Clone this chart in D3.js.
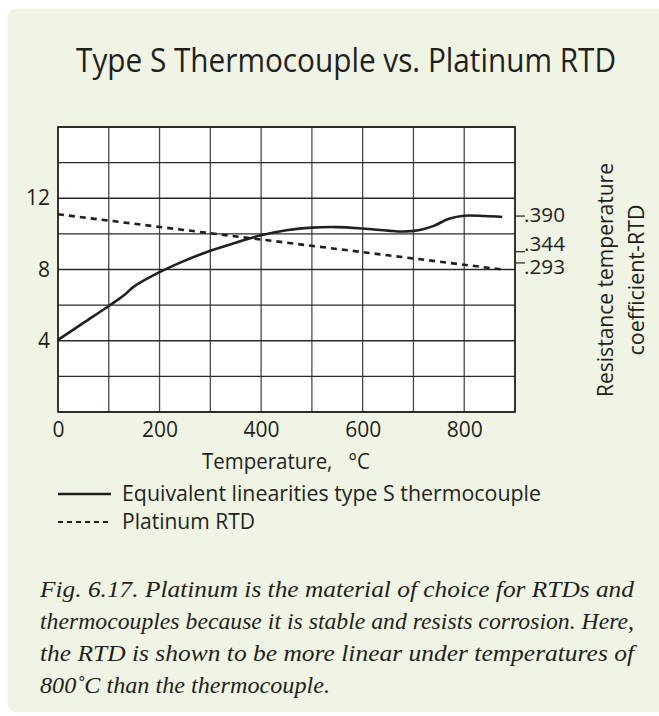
<!DOCTYPE html>
<html>
<head>
<meta charset="utf-8">
<script src="https://cdn.jsdelivr.net/npm/d3@7"></script>
<style>
  html, body { margin: 0; padding: 0; background: #ffffff; }
  svg { display: block; }
</style>
</head>
<body>
<svg id="chart" width="659" height="716"></svg>
<script>
// Temperature (°C) and equivalent linearity of a type S thermocouple
const tcTemps  = [0, 50, 100, 130, 150, 200, 250, 300, 350, 400, 450, 500, 550, 600, 650, 680, 710, 740, 770, 800, 840, 875];
const tcValues = [4.05, 5.0, 5.95, 6.55, 7.05, 7.85, 8.5, 9.05, 9.5, 9.92, 10.2, 10.35, 10.38, 10.3, 10.18, 10.13, 10.2, 10.45, 10.85, 11.02, 11.0, 10.95];

// Platinum RTD line
const rtdTemps  = [0, 875];
const rtdValues = [11.1, 8.0];

// Axis ticks
const xTicks = [0, 200, 400, 600, 800];
const yTicks = [4, 8, 12];
const xGrid = [0, 100, 200, 300, 400, 500, 600, 700, 800, 900];
const yGrid = [0, 2, 4, 6, 8, 10, 12, 14, 16];

// Resistance temperature coefficient marks on the right side
const rtdCoefLabels = [".390", ".344", ".293"];
const rtdCoefLevels = [11.0, 9.0, 8.37];

const legendLabels = ["Equivalent linearities type S thermocouple", "Platinum RTD"];
const titleText = "Type S Thermocouple vs. Platinum RTD";
const captionLines = [
  "Fig. 6.17. Platinum is the material of choice for RTDs and",
  "thermocouples because it is stable and resists corrosion. Here,",
  "the RTD is shown to be more linear under temperatures of",
  "800\u02daC than the thermocouple."
];

const svg = d3.select("#chart");
const sans = "'Open Sans', 'Noto Sans', sans-serif";
const serif = "'Liberation Serif', 'DejaVu Serif', serif";
const ink = "#231f20";

// Panel background
svg.append("rect")
  .attr("x", 7.5).attr("y", 8.5)
  .attr("width", 670).attr("height", 704)
  .attr("rx", 9).attr("ry", 9)
  .attr("fill", "#f0f4e4");

// Title
svg.append("text")
  .attr("x", 346).attr("y", 72)
  .attr("text-anchor", "middle")
  .attr("font-family", sans)
  .attr("font-size", 32)
  .attr("fill", ink)
  .attr("textLength", 540)
  .attr("lengthAdjust", "spacingAndGlyphs")
  .text(titleText);

const plot = { left: 58, right: 515, top: 127, bottom: 412 };
const x = d3.scaleLinear().domain([0, 900]).range([plot.left, plot.right]);
const y = d3.scaleLinear().domain([0, 16]).range([plot.bottom, plot.top]);

// Plot area
svg.append("rect")
  .attr("x", plot.left).attr("y", plot.top)
  .attr("width", plot.right - plot.left).attr("height", plot.bottom - plot.top)
  .attr("fill", "#ffffff");

const grid = svg.append("g");
grid.selectAll("line.v").data(xGrid).join("line")
  .attr("class", "v")
  .attr("x1", d => x(d)).attr("x2", d => x(d))
  .attr("y1", plot.top).attr("y2", plot.bottom)
  .attr("stroke", "#4a4a4a").attr("stroke-width", 1.3);
grid.selectAll("line.h").data(yGrid).join("line")
  .attr("class", "h")
  .attr("x1", plot.left).attr("x2", plot.right)
  .attr("y1", d => y(d)).attr("y2", d => y(d))
  .attr("stroke", "#2a2a2a").attr("stroke-width", 1.3);

svg.append("rect")
  .attr("x", plot.left).attr("y", plot.top)
  .attr("width", plot.right - plot.left).attr("height", plot.bottom - plot.top)
  .attr("fill", "none").attr("stroke", ink).attr("stroke-width", 1.6);

// Axes (labels only; grid carries the lines)
const xAxis = d3.axisBottom(x).tickValues(xTicks).tickSize(0).tickPadding(10).tickFormat(d3.format("d"));
const gx = svg.append("g").attr("transform", `translate(0,${plot.bottom})`).call(xAxis);
gx.select(".domain").remove();
gx.selectAll("text").attr("font-family", sans).attr("font-size", 21).attr("fill", ink);

const yAxis = d3.axisLeft(y).tickValues(yTicks).tickSize(0).tickPadding(8).tickFormat(d3.format("d"));
const gy = svg.append("g").attr("transform", `translate(${plot.left},0)`).call(yAxis);
gy.select(".domain").remove();
gy.selectAll("text").attr("font-family", sans).attr("font-size", 21).attr("fill", ink);

// Series
const tcData = tcTemps.map((t, i) => [t, tcValues[i]]);
const rtdData = rtdTemps.map((t, i) => [t, rtdValues[i]]);
const line = d3.line().x(d => x(d[0])).y(d => y(d[1])).curve(d3.curveCatmullRom.alpha(0.5));

svg.append("path").datum(rtdData)
  .attr("d", line)
  .attr("fill", "none").attr("stroke", ink)
  .attr("stroke-width", 2.6).attr("stroke-dasharray", "6,5");

svg.append("path").datum(tcData)
  .attr("d", line)
  .attr("fill", "none").attr("stroke", ink)
  .attr("stroke-width", 2.6).attr("stroke-linejoin", "round");

// Right-side coefficient marks
const coefLabelShift = [-1, -8, 4];
const coef = svg.append("g");
rtdCoefLevels.forEach((v, i) => {
  coef.append("line")
    .attr("x1", plot.right).attr("x2", plot.right + 10)
    .attr("y1", y(v)).attr("y2", y(v))
    .attr("stroke", ink).attr("stroke-width", 1.2);
  coef.append("text")
    .attr("x", plot.right + 9).attr("y", y(v) + coefLabelShift[i])
    .attr("dy", "0.35em")
    .attr("font-family", sans).attr("font-size", 20).attr("fill", ink)
    .attr("textLength", 41).attr("lengthAdjust", "spacingAndGlyphs")
    .text(rtdCoefLabels[i]);
});

// Right axis title
const rt = svg.append("g").attr("transform", "translate(613,280) rotate(-90)");
rt.append("text").attr("x", 0).attr("y", 0).attr("text-anchor", "middle")
  .attr("font-family", sans).attr("font-size", 21).attr("fill", ink)
  .attr("textLength", 234).attr("lengthAdjust", "spacingAndGlyphs")
  .text("Resistance temperature");
rt.append("text").attr("x", 0).attr("y", 31).attr("text-anchor", "middle")
  .attr("font-family", sans).attr("font-size", 21).attr("fill", ink)
  .attr("textLength", 151).attr("lengthAdjust", "spacingAndGlyphs")
  .text("coefficient-RTD");

// X axis title
svg.append("text")
  .attr("x", 286).attr("y", 469).attr("text-anchor", "middle")
  .attr("font-family", sans).attr("font-size", 21).attr("fill", ink)
  .attr("xml:space", "preserve")
  .attr("textLength", 168).attr("lengthAdjust", "spacingAndGlyphs")
  .text("Temperature,   \u00B0C");

// Legend
const legend = svg.append("g");
const legendY = [494, 522];
const legendDash = [null, "5,4"];
const legendWidth = [419, 133];
legendLabels.forEach((lab, i) => {
  legend.append("line")
    .attr("x1", 58).attr("x2", 111)
    .attr("y1", legendY[i]).attr("y2", legendY[i])
    .attr("stroke", ink).attr("stroke-width", i === 0 ? 2.4 : 1.8)
    .attr("stroke-dasharray", legendDash[i]);
  legend.append("text")
    .attr("x", 122).attr("y", legendY[i]).attr("dy", "0.35em")
    .attr("font-family", sans).attr("font-size", 21).attr("fill", ink)
    .attr("textLength", legendWidth[i]).attr("lengthAdjust", "spacingAndGlyphs")
    .text(lab);
});

// Caption, justified
const capBase = [597, 629, 661, 693];
captionLines.forEach((ln, i) => {
  const t = svg.append("text")
    .attr("x", 40).attr("y", capBase[i])
    .attr("font-family", serif).attr("font-style", "italic")
    .attr("font-size", 24).attr("fill", ink)
    .text(ln);
  if (i < captionLines.length - 1) {
    t.attr("textLength", 594).attr("lengthAdjust", "spacingAndGlyphs");
  } else {
    t.attr("textLength", 290).attr("lengthAdjust", "spacingAndGlyphs");
  }
});
</script>
</body>
</html>
